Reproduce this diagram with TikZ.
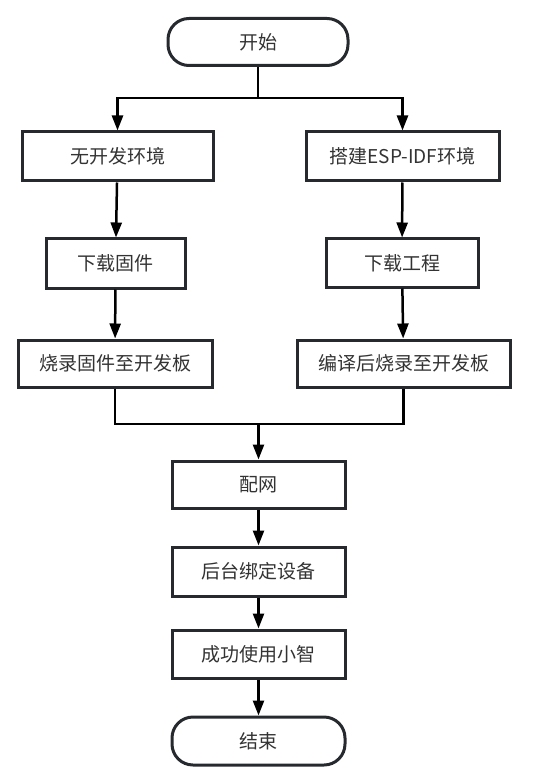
\documentclass[tikz,border=0pt]{standalone}
\usepackage{fontspec}
\setmainfont{Noto Sans CJK SC}
\usetikzlibrary{arrows.meta}

\definecolor{boxline}{HTML}{262A2E}
\definecolor{boxtext}{HTML}{333333}

\tikzset{
  box/.style={draw=boxline, line width=3pt, fill=white, inner sep=0pt,
    text=boxtext, font=\fontsize{19}{19}\selectfont, minimum height=47pt},
  term/.style={box, rounded corners=21pt},
  link/.style={black, line width=2.5pt},
  arr/.style={link, -{Triangle[length=15pt,width=11pt]}}
}

\begin{document}
\begin{tikzpicture}[x=1pt,y=-1pt]
\useasboundingbox (0,0) rectangle (536,783);

\node[term, minimum width=180pt] (start) at (258,42) {开始};
\node[box, minimum width=191pt, minimum height=49pt] (noenv) at (117.5,156.5) {无开发环境};
\node[box, minimum width=193pt, minimum height=49pt] (idf) at (402.5,156.5) {搭建ESP-IDF环境};
\node[box, minimum width=139pt, minimum height=49pt] (getfw) at (115.5,263.5) {下载固件};
\node[box, minimum width=152pt, minimum height=48pt] (getprj) at (402,263) {下载工程};
\node[box, minimum width=194pt] (flashfw) at (115,363.5) {烧录固件至开发板};
\node[box, minimum width=213pt] (build) at (403.5,363.5) {编译后烧录至开发板};
\node[box, minimum width=173pt] (net) at (258.5,484.5) {配网};
\node[box, minimum width=173pt, minimum height=49pt] (bind) at (258.5,571.5) {后台绑定设备};
\node[box, minimum width=173pt, minimum height=48pt] (use) at (258.5,654) {成功使用小智};
\node[term, minimum width=173pt, minimum height=48pt] (stop) at (258.5,741) {结束};

\coordinate (split) at (258,98);
\coordinate (merge) at (258.5,424);

% branch
\draw[link] (start.south) -- (split);
\draw[arr] (split) -| (noenv.north);
\draw[arr] (split) -| (idf.north);

\draw[arr] (noenv) -- (getfw);
\draw[arr] (getfw) -- (flashfw);
\draw[arr] (idf) -- (getprj);
\draw[arr] (getprj) -- (build);

% join
\draw[link] (flashfw.south) |- (merge);
\draw[link] (build.south) |- (merge);
\draw[arr] (merge) -- (net.north);

\draw[arr] (net) -- (bind);
\draw[arr] (bind) -- (use);
\draw[arr] (use) -- (stop);

\end{tikzpicture}
\end{document}
